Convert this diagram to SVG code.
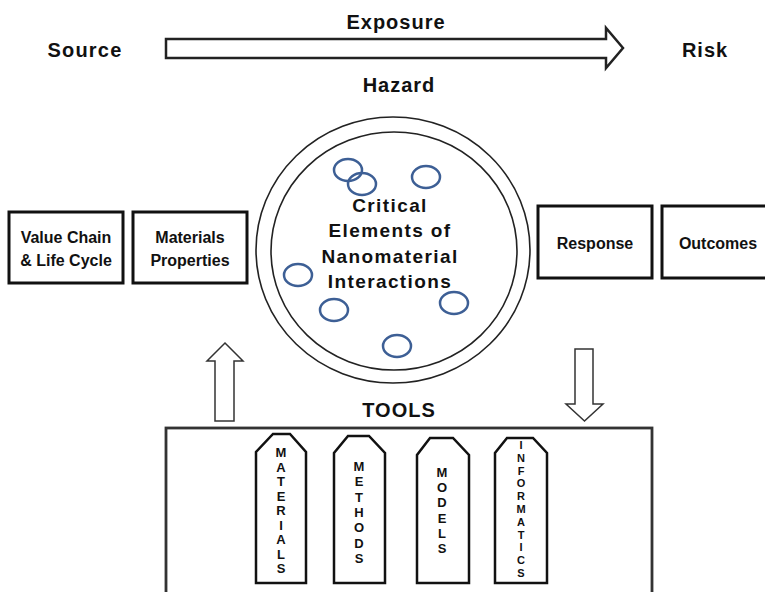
<svg xmlns="http://www.w3.org/2000/svg" width="765" height="592" viewBox="0 0 765 592">
<style>
text{font-family:"Liberation Sans",Arial,sans-serif;font-weight:bold;fill:#111;text-anchor:middle}
.big{font-size:20px;letter-spacing:1px}
.box{fill:#fff;stroke:#111;stroke-width:3}
.lbl{font-size:16px}
.ring{fill:none;stroke:#222;stroke-width:1.6}
.dot{fill:none;stroke:#3d5f95;stroke-width:2.5}
.crit{font-size:19px;letter-spacing:1.4px}
.fat{fill:#fff;stroke:#333;stroke-width:1.5}
.tag{fill:#fff;stroke:#111;stroke-width:2.5;stroke-linejoin:miter}
.tl{font-size:13px}
.ts{font-size:11px}
</style>
<rect width="765" height="592" fill="#fff"/>
<g id="exposure-arrow">
<path d="M166 39 H606 V28 L623 48 L606 68 V58 H166 Z" fill="#fff" stroke="#222" stroke-width="2.5"/>
<text class="big" x="396" y="29">Exposure</text>
</g>
<g id="source"><text class="big" x="85" y="57" style="letter-spacing:1.2px">Source</text></g>
<g id="risk"><text class="big" x="705" y="57">Risk</text></g>
<g id="hazard"><text class="big" x="399" y="92">Hazard</text></g>
<g id="value-chain">
<rect class="box" x="9" y="212" width="114" height="71"/>
<text class="lbl" x="66" y="243">Value Chain</text>
<text class="lbl" x="66" y="266">&amp; Life Cycle</text>
</g>
<g id="materials-properties">
<rect class="box" x="133" y="212" width="114" height="71"/>
<text class="lbl" x="190" y="243">Materials</text>
<text class="lbl" x="190" y="266">Properties</text>
</g>
<g id="critical-elements">
<ellipse class="ring" cx="393" cy="250" rx="137" ry="133"/>
<ellipse class="ring" cx="394" cy="251" rx="123" ry="119"/>
<ellipse class="dot" cx="348" cy="170" rx="14" ry="11"/>
<ellipse class="dot" cx="362" cy="184" rx="14" ry="11"/>
<ellipse class="dot" cx="426" cy="177" rx="14" ry="11"/>
<ellipse class="dot" cx="298" cy="275" rx="14" ry="11"/>
<ellipse class="dot" cx="334" cy="310" rx="14" ry="11"/>
<ellipse class="dot" cx="454" cy="303" rx="14" ry="11"/>
<ellipse class="dot" cx="397" cy="346" rx="14" ry="11"/>
<text class="crit" x="390" y="212">Critical</text>
<text class="crit" x="390" y="237">Elements of</text>
<text class="crit" x="390" y="263">Nanomaterial</text>
<text class="crit" x="390" y="288">Interactions</text>
</g>
<g id="response">
<rect class="box" x="538" y="206" width="114" height="72"/>
<text class="lbl" x="595" y="249">Response</text>
</g>
<g id="outcomes">
<rect class="box" x="662" y="206" width="114" height="72"/>
<text class="lbl" x="718" y="249">Outcomes</text>
</g>
<g id="connectors">
<path class="fat" d="M225 343 L243 361 H234 V421 H215 V361 H207 Z"/>
<path class="fat" d="M575 349 H593 V404 H603 L584.5 421 L566 404 H575 Z"/>
</g>
<g id="tools">
<text class="big" x="399" y="417">TOOLS</text>
<rect x="166" y="428" width="486" height="180" fill="#fff" stroke="#333" stroke-width="2.8"/>
</g>
<g id="tag-materials">
<path class="tag" d="M256 583 V452 L273 434 H290 L306 452 V583 Z"/>
<text class="tl" x="281" y="457">M</text><text class="tl" x="281" y="471.5">A</text><text class="tl" x="281" y="486">T</text><text class="tl" x="281" y="500.5">E</text><text class="tl" x="281" y="515">R</text><text class="tl" x="281" y="529.5">I</text><text class="tl" x="281" y="544">A</text><text class="tl" x="281" y="558.5">L</text><text class="tl" x="281" y="573">S</text>
</g>
<g id="tag-methods">
<path class="tag" d="M334 583 V453 L348 436 H369 L385 453 V583 Z"/>
<text class="tl" x="359" y="471">M</text><text class="tl" x="359" y="486.3">E</text><text class="tl" x="359" y="501.6">T</text><text class="tl" x="359" y="517">H</text><text class="tl" x="359" y="532.3">O</text><text class="tl" x="359" y="547.6">D</text><text class="tl" x="359" y="563">S</text>
</g>
<g id="tag-models">
<path class="tag" d="M417 583 V455 L430 438 H453 L469 455 V583 Z"/>
<text class="tl" x="442" y="477">M</text><text class="tl" x="442" y="492.2">O</text><text class="tl" x="442" y="507.4">D</text><text class="tl" x="442" y="522.6">E</text><text class="tl" x="442" y="537.8">L</text><text class="tl" x="442" y="553">S</text>
</g>
<g id="tag-informatics">
<path class="tag" d="M495 583 V453 L507 438 H533 L547 453 V583 Z"/>
<text class="ts" x="521" y="449">I</text><text class="ts" x="521" y="461.8">N</text><text class="ts" x="521" y="474.6">F</text><text class="ts" x="521" y="487.4">O</text><text class="ts" x="521" y="500.2">R</text><text class="ts" x="521" y="513">M</text><text class="ts" x="521" y="525.8">A</text><text class="ts" x="521" y="538.6">T</text><text class="ts" x="521" y="551.4">I</text><text class="ts" x="521" y="564.2">C</text><text class="ts" x="521" y="577">S</text>
</g>
</svg>
